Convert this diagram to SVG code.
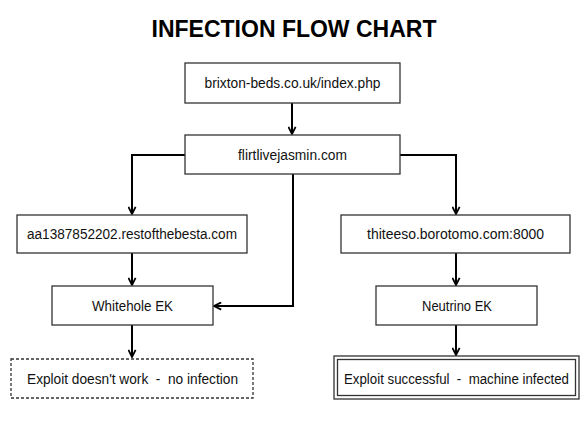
<svg xmlns="http://www.w3.org/2000/svg" width="588" height="441" viewBox="0 0 588 441">
<style>
.box{fill:#fff;stroke:#333;stroke-width:1.3}
.lbl{font-family:"Liberation Sans",Arial,sans-serif;font-size:14px;fill:#111;text-anchor:middle}
.title{font-family:"Liberation Sans",Arial,sans-serif;font-size:23px;font-weight:bold;fill:#000;text-anchor:middle}
.conn{fill:none;stroke:#000;stroke-width:2}
</style>
<defs>
<marker id="arr" viewBox="0 0 10 10" refX="9" refY="5" markerWidth="4.5" markerHeight="4.5" orient="auto" markerUnits="strokeWidth">
<path d="M1,1 L9,5 L1,9" fill="none" stroke="#000" stroke-width="2"/>
</marker>
</defs>
<rect width="588" height="441" fill="#fff"/>
<text class="title" x="294" y="37">INFECTION FLOW CHART</text>
<g id="connectors">
<line class="conn" x1="292" y1="103" x2="292" y2="134" marker-end="url(#arr)"/>
<polyline class="conn" points="185,155 132,155 132,214" marker-end="url(#arr)"/>
<polyline class="conn" points="400,155 456,155 456,214" marker-end="url(#arr)"/>
<line class="conn" x1="132" y1="253" x2="132" y2="285" marker-end="url(#arr)"/>
<polyline class="conn" points="293,174 293,306 214,306" marker-end="url(#arr)"/>
<line class="conn" x1="132" y1="325" x2="132" y2="357" marker-end="url(#arr)"/>
<line class="conn" x1="456" y1="253" x2="456" y2="285" marker-end="url(#arr)"/>
<line class="conn" x1="456" y1="325" x2="456" y2="355" marker-end="url(#arr)"/>
</g>
<g id="n-brixton">
<rect class="box" x="185" y="63" width="215" height="40"/>
<text class="lbl" x="292.5" y="88" textLength="176" lengthAdjust="spacingAndGlyphs">brixton-beds.co.uk/index.php</text>
</g>
<g id="n-flirt">
<rect class="box" x="185" y="135" width="215" height="39"/>
<text class="lbl" x="292.5" y="160" textLength="109" lengthAdjust="spacingAndGlyphs">flirtlivejasmin.com</text>
</g>
<g id="n-aa">
<rect class="box" x="17" y="215" width="230" height="38"/>
<text class="lbl" x="132" y="239" textLength="210" lengthAdjust="spacingAndGlyphs">aa1387852202.restofthebesta.com</text>
</g>
<g id="n-whitehole">
<rect class="box" x="52" y="286" width="161" height="39"/>
<text class="lbl" x="132.5" y="311" textLength="81" lengthAdjust="spacingAndGlyphs">Whitehole EK</text>
</g>
<g id="n-fail">
<rect class="box" x="11" y="359" width="242" height="39" stroke-dasharray="3,2"/>
<text class="lbl" x="132.5" y="384" xml:space="preserve" textLength="211" lengthAdjust="spacingAndGlyphs">Exploit doesn't work  -  no infection</text>
</g>
<g id="n-thiteeso">
<rect class="box" x="341" y="215" width="229" height="38"/>
<text class="lbl" x="455.5" y="239" textLength="177" lengthAdjust="spacingAndGlyphs">thiteeso.borotomo.com:8000</text>
</g>
<g id="n-neutrino">
<rect class="box" x="376" y="286" width="161" height="39"/>
<text class="lbl" x="457" y="311" textLength="70" lengthAdjust="spacingAndGlyphs">Neutrino EK</text>
</g>
<g id="n-success">
<rect class="box" x="334" y="356" width="245" height="43"/>
<rect class="box" x="337.5" y="359.5" width="238" height="36"/>
<text class="lbl" x="456.5" y="384" xml:space="preserve" textLength="225" lengthAdjust="spacingAndGlyphs">Exploit successful  -  machine infected</text>
</g>
</svg>
